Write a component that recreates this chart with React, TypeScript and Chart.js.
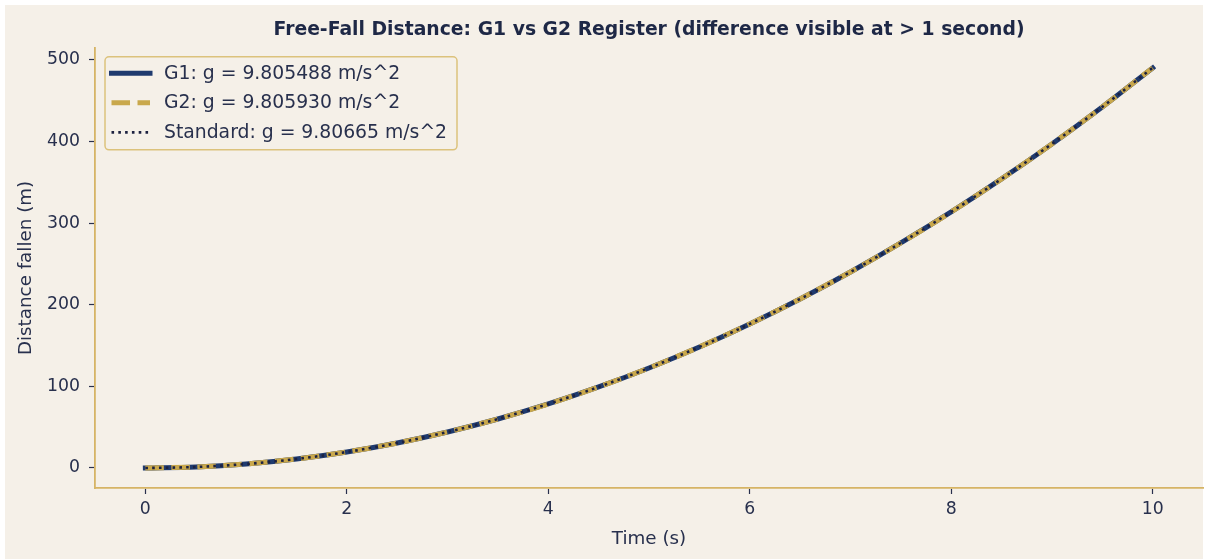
import { useEffect, useRef } from "react";
import { Chart, registerables } from "chart.js";

Chart.register(...registerables);

// ---- Data ----
const times = [0, 0.5, 1, 1.5, 2, 2.5, 3, 3.5, 4, 4.5, 5, 5.5, 6, 6.5, 7, 7.5, 8, 8.5, 9, 9.5, 10];
const g1Distance = [0, 1.2257, 4.9027, 11.0312, 19.611, 30.6422, 44.1247, 60.0586, 78.4439, 99.2806, 122.5686, 148.308, 176.4988, 207.1409, 240.2345, 275.7794, 313.7756, 354.2233, 397.1223, 442.4726, 490.2744];
const g2Distance = [0, 1.2257, 4.903, 11.0317, 19.6119, 30.6435, 44.1267, 60.0613, 78.4474, 99.285, 122.5741, 148.3147, 176.5067, 207.1503, 240.2453, 275.7918, 313.7898, 354.2392, 397.1402, 442.4926, 490.2965];
const standardDistance = [0, 1.2258, 4.9033, 11.0325, 19.6133, 30.6458, 44.1299, 60.0657, 78.4532, 99.2923, 122.5831, 148.3256, 176.5197, 207.1655, 240.2629, 275.812, 313.8128, 354.2652, 397.1693, 442.5251, 490.3325];
const seriesLabels = ["G1: g = 9.805488 m/s^2", "G2: g = 9.805930 m/s^2", "Standard: g = 9.80665 m/s^2"];
const xTicks = [0, 2, 4, 6, 8, 10];
const yTicks = [0, 100, 200, 300, 400, 500];
const xRange = [-0.5, 10.5];
const yRange = [-24.52, 514.85];
const titleText = "Free-Fall Distance: G1 vs G2 Register (difference visible at > 1 second)";
const xTitle = "Time (s)";
const yTitle = "Distance fallen (m)";

// ---- Styles ----
const FONT = "'DejaVu Sans', sans-serif";
const CREAM = "#f5f0e8";
const NAVY = "#1f3a6e";
const GOLD = "#c9a84c";
const DOT = "#1c2140";
const TEXT = "#28304d";
const TITLE = "#1e2846";
const SPINE = "#d6b465";
const LEGEND_BORDER = "#dcc27c";

const backgroundPlugin = {
  id: "bg",
  beforeDraw(chart: any) {
    const { ctx, width, height } = chart;
    ctx.save();
    ctx.fillStyle = "#ffffff";
    ctx.fillRect(0, 0, width, height);
    ctx.fillStyle = CREAM;
    ctx.fillRect(5, 5, width - 8, height - 5);
    ctx.restore();
  },
};

const legendPlugin = {
  id: "boxLegend",
  afterDraw(chart: any) {
    const { ctx, chartArea } = chart;
    const x = chartArea.left + 10;
    const y = chartArea.top + 9;
    const w = 352;
    const h = 93;
    ctx.save();
    ctx.beginPath();
    ctx.roundRect(x, y, w, h, 4);
    ctx.fillStyle = "rgba(245,240,232,0.85)";
    ctx.fill();
    ctx.lineWidth = 1.5;
    ctx.strokeStyle = LEGEND_BORDER;
    ctx.stroke();
    chart.data.datasets.forEach((ds: any, i: number) => {
      const cy = y + 16.5 + i * 29.5;
      ctx.beginPath();
      ctx.setLineDash(ds.borderDash || []);
      ctx.lineWidth = ds.borderWidth;
      ctx.strokeStyle = ds.borderColor;
      ctx.lineCap = ds.borderCapStyle || "butt";
      ctx.moveTo(x + 6.5, cy);
      ctx.lineTo(x + 45, cy);
      ctx.stroke();
      ctx.setLineDash([]);
      ctx.fillStyle = TEXT;
      ctx.font = `18.8px ${FONT}`;
      ctx.textBaseline = "middle";
      ctx.textAlign = "left";
      ctx.fillText(ds.label, x + 59, cy + 0.5);
    });
    ctx.restore();
  },
};

export default function App() {
  const ref = useRef<HTMLCanvasElement>(null);
  useEffect(() => {
    document.body.style.margin = "0";
    const toPts = (arr: number[]) => times.map((t, i) => ({ x: t, y: arr[i] }));
    const chart = new Chart(ref.current!, {
      type: "line",
      data: {
        datasets: [
          {
            label: seriesLabels[0],
            data: toPts(g1Distance),
            borderColor: NAVY,
            borderWidth: 5,
            borderCapStyle: "square",
            pointRadius: 0,
            cubicInterpolationMode: "monotone",
            order: 3,
          },
          {
            label: seriesLabels[1],
            data: toPts(g2Distance),
            borderColor: GOLD,
            borderWidth: 5,
            borderDash: [18.5, 7.5],
            borderCapStyle: "butt",
            pointRadius: 0,
            cubicInterpolationMode: "monotone",
            order: 2,
          },
          {
            label: seriesLabels[2],
            data: toPts(standardDistance),
            borderColor: DOT,
            borderWidth: 2.6,
            borderDash: [2.6, 4.2],
            borderCapStyle: "butt",
            pointRadius: 0,
            cubicInterpolationMode: "monotone",
            order: 1,
          },
        ] as any,
      },
      options: {
        responsive: false,
        animation: false,
        devicePixelRatio: 1,
        layout: { padding: { left: 5, top: 5, right: 3, bottom: 0 } },
        plugins: {
          legend: { display: false },
          tooltip: { enabled: false },
          title: {
            display: true,
            text: titleText,
            fullSize: false,
            color: TITLE,
            font: { family: FONT, size: 18.8, weight: "bold" },
            padding: { top: 14, bottom: 6.3 },
          },
        },
        scales: {
          x: {
            type: "linear",
            min: xRange[0],
            max: xRange[1],
            afterFit: (s: any) => {
              s.height = 71;
            },
            afterBuildTicks: (s: any) => {
              s.ticks = xTicks.map((v) => ({ value: v }));
            },
            grid: { drawOnChartArea: false, drawTicks: true, tickLength: 6, tickColor: TEXT, tickWidth: 1.2 },
            border: { display: true, color: SPINE, width: 1.8 },
            ticks: { color: TEXT, font: { family: FONT, size: 17.3 }, padding: 5, maxRotation: 0 },
            title: { display: true, text: xTitle, color: TEXT, font: { family: FONT, size: 18.3 }, padding: { top: 0, bottom: 9 } },
          },
          y: {
            type: "linear",
            min: yRange[0],
            max: yRange[1],
            afterFit: (s: any) => {
              s.width = 90;
            },
            afterBuildTicks: (s: any) => {
              s.ticks = yTicks.map((v) => ({ value: v }));
            },
            grid: { drawOnChartArea: false, drawTicks: true, tickLength: 6, tickColor: TEXT, tickWidth: 1.2 },
            border: { display: true, color: SPINE, width: 1.8 },
            ticks: { color: TEXT, font: { family: FONT, size: 17.3 }, padding: 9 },
            title: { display: true, text: yTitle, color: TEXT, font: { family: FONT, size: 18.3 }, padding: { top: 10, bottom: 0 } },
          },
        },
      } as any,
      plugins: [backgroundPlugin, legendPlugin],
    });
    return () => chart.destroy();
  }, []);
  return (
    <div style={{ position: "fixed", left: 0, top: 0, width: 1206, height: 559 }}>
      <canvas ref={ref} width={1206} height={559} style={{ width: 1206, height: 559, display: "block" }} />
    </div>
  );
}
